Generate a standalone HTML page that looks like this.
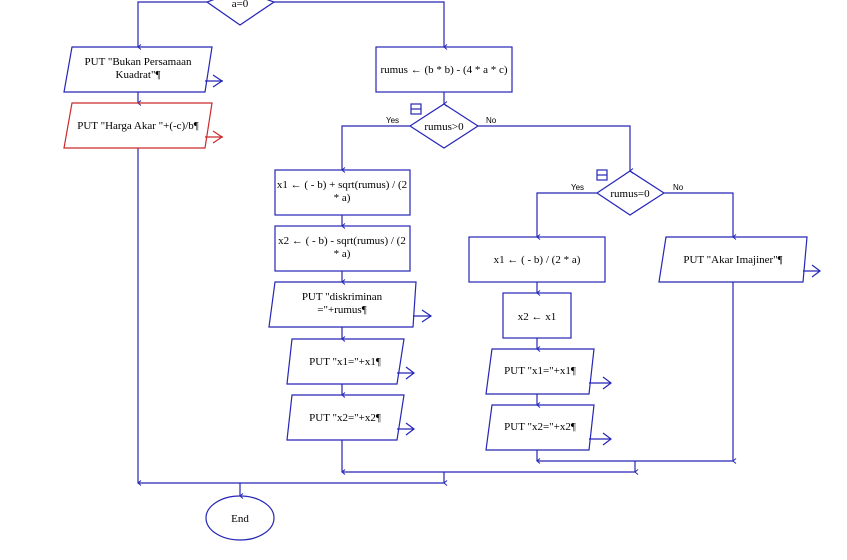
<!DOCTYPE html>
<html><head><meta charset="utf-8"><style>
html,body{margin:0;padding:0;background:#fff;}
svg{display:block;}
text{font-family:"Liberation Serif",serif;font-size:11px;fill:#000;}
.s{font-family:"Liberation Sans",sans-serif;font-size:8px;}
</style></head><body>
<svg width="847" height="560" viewBox="0 0 847 560" xmlns="http://www.w3.org/2000/svg">
<defs>
<marker id="a" markerWidth="6" markerHeight="6" refX="3" refY="5" orient="auto" markerUnits="userSpaceOnUse"><path d="M0.5,2 L3,5 L5.5,2" fill="none" stroke="#2626b8" stroke-width="1"/></marker>
</defs>
<g fill="none" stroke="#2626b8" stroke-width="1.2">
<!-- top diamond -->
<polygon points="240,-10 274,2 240,25 207,2"/>
<polyline points="207,2 138,2 138,47" marker-end="url(#a)"/>
<polyline points="274,2 444,2 444,47" marker-end="url(#a)"/>
<!-- left column -->
<polygon points="72,47 212,47 205,92 64,92"/>
<polyline points="205,81 223,81"/><polyline points="213,75 222,81 213,87"/>
<line x1="138" y1="92" x2="138" y2="103" marker-end="url(#a)"/>
<line x1="138" y1="148" x2="138" y2="483" marker-end="url(#a)"/>
<!-- right -->
<rect x="376" y="47" width="136" height="45"/>
<line x1="444" y1="92" x2="444" y2="104" marker-end="url(#a)"/>
<polygon points="444,104 478,126 444,148 410,126"/>
<rect x="411" y="104" width="10" height="10"/><line x1="411" y1="109" x2="421" y2="109"/>
<polyline points="410,126 342,126 342,170" marker-end="url(#a)"/>
<polyline points="478,126 630,126 630,171" marker-end="url(#a)"/>
<rect x="275" y="170" width="135" height="45"/>
<line x1="342" y1="215" x2="342" y2="226" marker-end="url(#a)"/>
<rect x="275" y="226" width="135" height="45"/>
<line x1="342" y1="271" x2="342" y2="282" marker-end="url(#a)"/>
<polygon points="275,282 416,282 413,327 269,327"/>
<polyline points="413,316 431,316"/><polyline points="422,310 431,316 422,322"/>
<line x1="342" y1="327" x2="342" y2="339" marker-end="url(#a)"/>
<polygon points="292,339 404,339 397,384 287,384"/>
<polyline points="397,373 414,373"/><polyline points="406,367 414,373 406,379"/>
<line x1="342" y1="384" x2="342" y2="395" marker-end="url(#a)"/>
<polygon points="292,395 404,395 397,440 287,440"/>
<polyline points="397,429 414,429"/><polyline points="406,423 414,429 406,435"/>
<line x1="342" y1="440" x2="342" y2="472" marker-end="url(#a)"/>
<!-- rumus=0 -->
<polygon points="630,171 664,193 630,215 597,193"/>
<rect x="597" y="170" width="10" height="10"/><line x1="597" y1="175" x2="607" y2="175"/>
<polyline points="597,193 537,193 537,237" marker-end="url(#a)"/>
<polyline points="664,193 733,193 733,237" marker-end="url(#a)"/>
<rect x="469" y="237" width="136" height="45"/>
<line x1="537" y1="282" x2="537" y2="293" marker-end="url(#a)"/>
<rect x="503" y="293" width="68" height="45"/>
<line x1="537" y1="338" x2="537" y2="349" marker-end="url(#a)"/>
<polygon points="492,349 594,349 589,394 486,394"/>
<polyline points="589,383 611,383"/><polyline points="603,377 611,383 603,389"/>
<line x1="537" y1="394" x2="537" y2="405" marker-end="url(#a)"/>
<polygon points="492,405 594,405 589,450 486,450"/>
<polyline points="589,439 611,439"/><polyline points="603,433 611,439 603,445"/>
<line x1="537" y1="450" x2="537" y2="461" marker-end="url(#a)"/>
<polygon points="666,237 807,237 803,282 659,282"/>
<polyline points="803,271 820,271"/><polyline points="812,265 820,271 812,277"/>
<line x1="733" y1="282" x2="733" y2="461" marker-end="url(#a)"/>
<line x1="537" y1="461" x2="733" y2="461"/>
<line x1="635" y1="461" x2="635" y2="472" marker-end="url(#a)"/>
<line x1="342" y1="472" x2="635" y2="472"/>
<line x1="444" y1="472" x2="444" y2="483" marker-end="url(#a)"/>
<line x1="138" y1="483" x2="444" y2="483"/>
<line x1="240" y1="483" x2="240" y2="496" marker-end="url(#a)"/>
<ellipse cx="240" cy="518" rx="34" ry="22"/>
</g>
<g fill="none" stroke="#cc2a2a" stroke-width="1.2">
<polygon points="72,103 212,103 205,148 64,148"/>
<polyline points="205,137 223,137"/><polyline points="213,131 222,137 213,143"/>
</g>
<text x="240" y="7" text-anchor="middle">a=0</text>
<text x="138" y="65" text-anchor="middle">PUT "Bukan Persamaan</text>
<text x="138" y="78" text-anchor="middle">Kuadrat"¶</text>
<text x="138" y="129" text-anchor="middle">PUT "Harga Akar "+(-c)/b¶</text>
<text x="444" y="73" text-anchor="middle">rumus ← (b * b) - (4 * a * c)</text>
<text x="444" y="130" text-anchor="middle">rumus&gt;0</text>
<text class="s" x="386" y="123">Yes</text>
<text class="s" x="486" y="123">No</text>
<text x="342" y="188" text-anchor="middle">x1 ← ( - b) + sqrt(rumus) / (2</text>
<text x="342" y="201" text-anchor="middle">* a)</text>
<text x="342" y="244" text-anchor="middle">x2 ← ( - b) - sqrt(rumus) / (2</text>
<text x="342" y="257" text-anchor="middle">* a)</text>
<text x="342" y="300" text-anchor="middle">PUT "diskriminan</text>
<text x="342" y="313" text-anchor="middle">="+rumus¶</text>
<text x="345" y="365" text-anchor="middle">PUT "x1="+x1¶</text>
<text x="345" y="421" text-anchor="middle">PUT "x2="+x2¶</text>
<text x="630" y="197" text-anchor="middle">rumus=0</text>
<text class="s" x="571" y="190">Yes</text>
<text class="s" x="673" y="190">No</text>
<text x="537" y="263" text-anchor="middle">x1 ← ( - b) / (2 * a)</text>
<text x="537" y="320" text-anchor="middle">x2 ← x1</text>
<text x="540" y="374" text-anchor="middle">PUT "x1="+x1¶</text>
<text x="540" y="430" text-anchor="middle">PUT "x2="+x2¶</text>
<text x="733" y="263" text-anchor="middle">PUT "Akar Imajiner"¶</text>
<text x="240" y="522" text-anchor="middle">End</text>
</svg>
</body></html>
